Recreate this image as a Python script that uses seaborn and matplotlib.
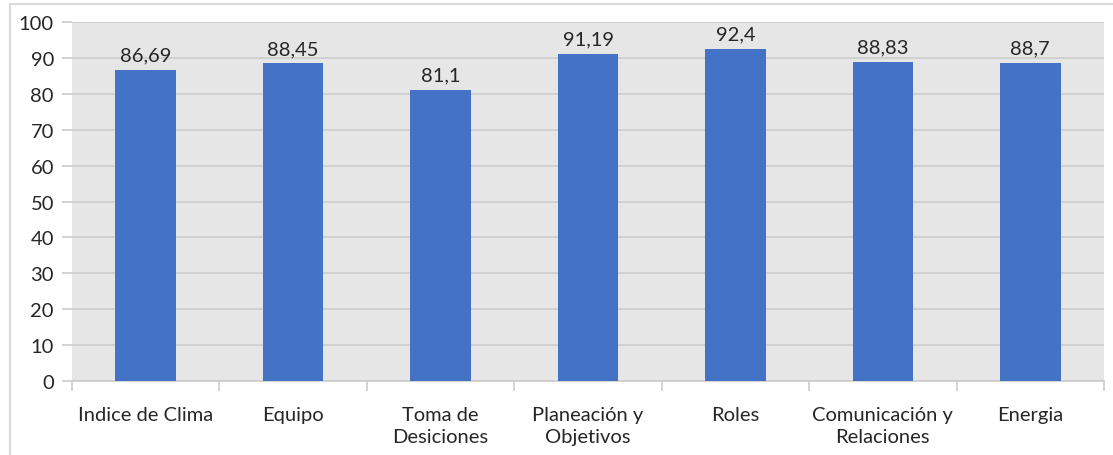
import matplotlib
matplotlib.use("Agg")
import matplotlib.pyplot as plt
import seaborn as sns
import pandas as pd
from matplotlib.patches import Rectangle
from matplotlib.ticker import FixedLocator

categories = ["Indice de Clima", "Equipo", "Toma de\nDesiciones", "Planeación y\nObjetivos",
              "Roles", "Comunicación y\nRelaciones", "Energia"]
values = [86.69, 88.45, 81.1, 91.19, 92.4, 88.83, 88.7]
value_labels = ["86,69", "88,45", "81,1", "91,19", "92,4", "88,83", "88,7"]
yticks = [0, 10, 20, 30, 40, 50, 60, 70, 80, 90, 100]

sns.set_theme(style="white")
plt.rcParams['font.family'] = ['Lato', 'DejaVu Sans']

df = pd.DataFrame({"cat": categories, "val": values})

fig = plt.figure(figsize=(11.13, 4.56), dpi=100)
ax = fig.add_axes([72/1113, 1-382/456, (1104-72)/1113, (382-23)/456])
ax.set_facecolor("#e7e6e6")

sns.barplot(data=df, x="cat", y="val", color="#4472c4", width=0.41, saturation=1,
            linewidth=0, edgecolor="#4472c4", ax=ax, zorder=3)

ax.set_ylim(0, 100)
ax.set_xlim(-0.5, len(categories) - 0.5)
ax.set_yticks(yticks)
ax.set_yticklabels([str(t) for t in yticks], fontsize=14.5, color="#262626")
ax.yaxis.grid(True, color="#cccccc", linewidth=1.2, zorder=0)
ax.set_axisbelow(True)
ax.tick_params(axis="y", length=7, color="#cccccc", width=1.2, pad=6, left=True)
ax.tick_params(axis="x", which="major", length=0, labelsize=14.5, labelcolor="#262626", pad=18)
for t in ax.get_xticklabels():
    t.set_linespacing(1.35)
ax.xaxis.set_minor_locator(FixedLocator([i - 0.5 for i in range(len(categories) + 1)]))
ax.tick_params(axis="x", which="minor", length=7, color="#cccccc", width=1.2, bottom=True)
ax.set_xlabel("")
ax.set_ylabel("")
for s in ["top", "right", "left"]:
    ax.spines[s].set_visible(False)
ax.spines["bottom"].set_color("#cccccc")
ax.spines["bottom"].set_linewidth(1.2)

for i, (v, lab) in enumerate(zip(values, value_labels)):
    ax.text(i, v + 1.8, lab, ha="center", va="bottom", fontsize=14.5, color="#262626")

fig.patches.append(Rectangle((10/1113, -0.1), 1.2, 1.1 - 5/456, transform=fig.transFigure,
                             fill=False, edgecolor="#d9d9d9", linewidth=1.5))

fig.savefig("out.png", dpi=100, facecolor="white")
